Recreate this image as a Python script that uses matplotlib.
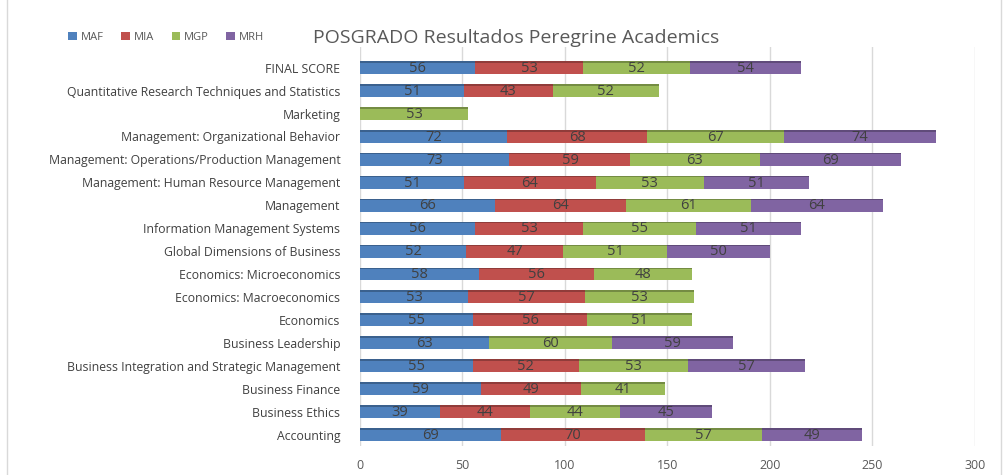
import numpy as np
import matplotlib.pyplot as plt
from matplotlib.patches import Rectangle
from matplotlib.colors import to_rgb

plt.rcParams['font.family'] = ['Open Sans', 'DejaVu Sans']

categories = ["FINAL SCORE",
              "Quantitative Research Techniques and Statistics",
              "Marketing",
              "Management: Organizational Behavior",
              "Management: Operations/Production Management",
              "Management: Human Resource Management",
              "Management",
              "Information Management Systems",
              "Global Dimensions of Business",
              "Economics: Microeconomics",
              "Economics: Macroeconomics",
              "Economics",
              "Business Leadership",
              "Business Integration and Strategic Management",
              "Business Finance",
              "Business Ethics",
              "Accounting"]
maf = [56, 51, 0, 72, 73, 51, 66, 56, 52, 58, 53, 55, 63, 55, 59, 39, 69]
mia = [53, 43, 0, 68, 59, 64, 64, 53, 47, 56, 57, 56, 0, 52, 49, 44, 70]
mgp = [52, 52, 53, 67, 63, 53, 61, 55, 51, 48, 53, 51, 60, 53, 41, 44, 57]
mrh = [54, 0, 0, 74, 69, 51, 64, 51, 50, 0, 0, 0, 59, 57, 0, 45, 49]
series = [("MAF", maf, "#4F81BD"), ("MIA", mia, "#C0504D"),
          ("MGP", mgp, "#9BBB59"), ("MRH", mrh, "#8064A2")]

fig = plt.figure(figsize=(10.08, 4.75), dpi=100)
ax = fig.add_axes([0.357, 0.061, 0.61, 0.84])

y = np.arange(len(categories))
left = np.zeros(len(categories))
for name, vals, col in series:
    vals = np.array(vals, dtype=float)
    ax.barh(y, vals, left=left, height=0.56, color=col, label=name,
            edgecolor='none', zorder=3)
    # darker top edge, a hint of the 3D look
    dark = tuple(c * 0.75 for c in to_rgb(col))
    ax.barh(y - 0.25, vals, left=left, height=0.07, color=dark,
            edgecolor='none', zorder=3.5)
    for yi, (l, v) in enumerate(zip(left, vals)):
        if v > 0:
            ax.text(l + v / 2, yi + 0.03, "%d" % v, ha='center', va='center',
                    fontsize=10.5, color='#404040', zorder=4)
    left += vals

ax.set_ylim(len(categories) - 0.5, -0.9)
ax.set_xlim(0, 300)
ax.set_xticks(range(0, 301, 50))
ax.set_yticks(y)
ax.set_yticklabels(categories, fontsize=8.8, color='#404040')
ax.tick_params(axis='x', labelsize=9, colors='#595959', length=0, pad=9)
ax.tick_params(axis='y', length=0, pad=14)
ax.grid(axis='x', color='#D9D9D9', linewidth=1, zorder=0)
for s in ax.spines.values():
    s.set_visible(False)

fig.text(0.512, 0.921, "POSGRADO Resultados Peregrine Academics",
         ha='center', va='center', fontsize=14, color='#595959')
fig.legend(loc='center left', bbox_to_anchor=(0.058, 0.921), ncol=4,
           frameon=False, fontsize=8, handlelength=0.8, handleheight=0.8,
           handletextpad=0.3, columnspacing=1.6, labelcolor='#595959')

fig.patches.append(Rectangle((0.007, -0.01), 0.986, 1.02, transform=fig.transFigure,
                             fill=False, edgecolor='#D9D9D9', linewidth=1))

fig.savefig("out.png", dpi=100)
